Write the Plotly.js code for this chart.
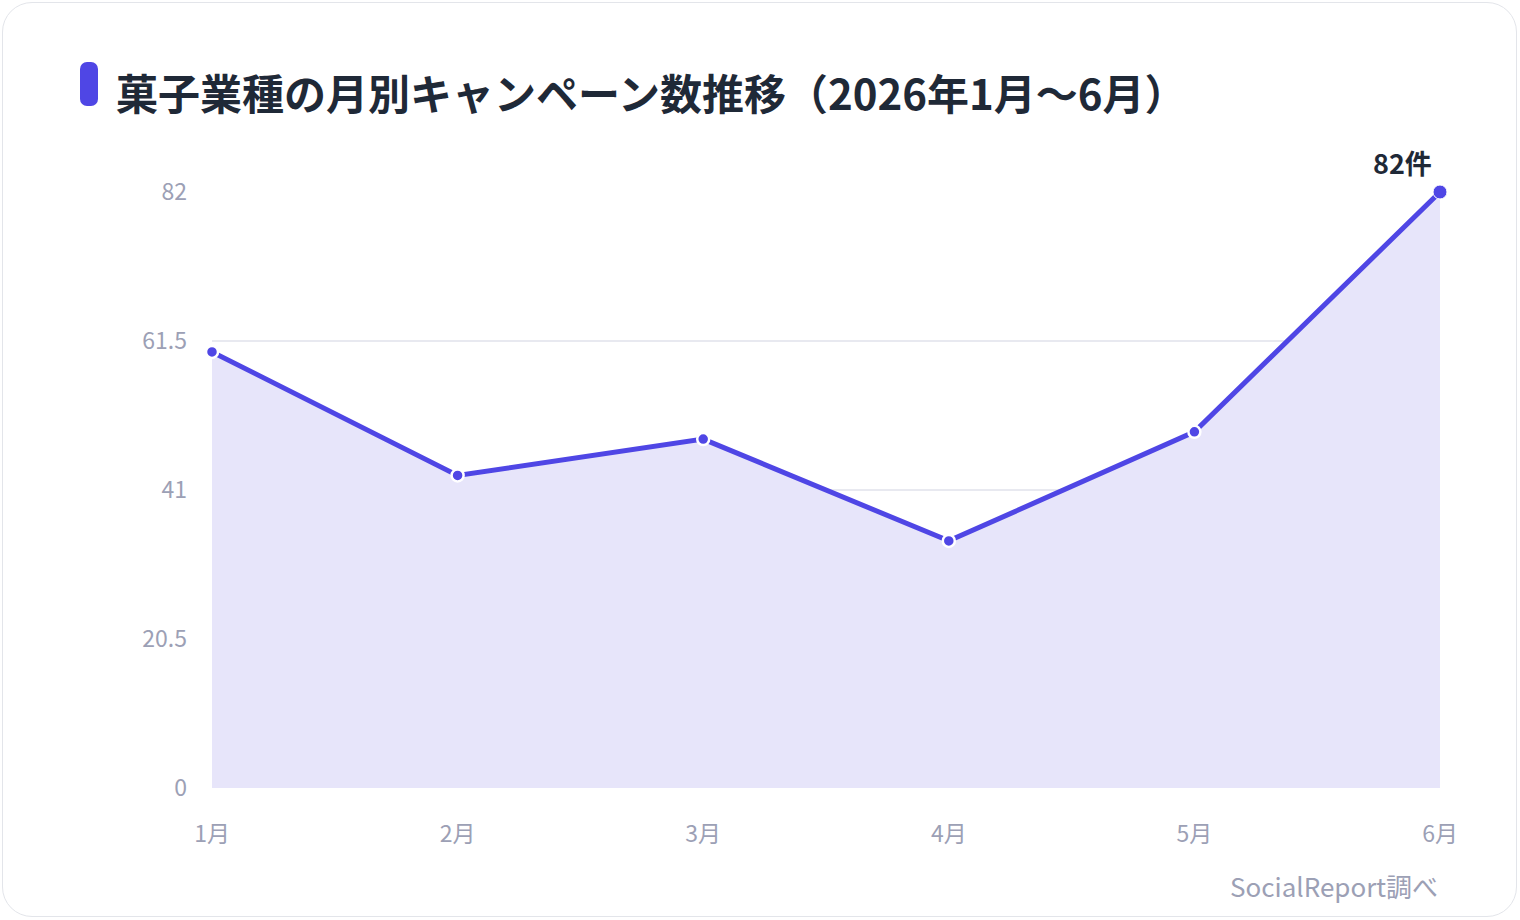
<!DOCTYPE html>
<html><head><meta charset="utf-8">
<script src="https://cdn.plot.ly/plotly-3.0.1.min.js"></script>
<style>
html,body{margin:0;padding:0;background:#fff;}
#card{position:absolute;left:2px;top:2px;width:1513px;height:913px;border:1.5px solid #e3e5ea;border-radius:30px;background:#fff;overflow:hidden;}
#bar{position:absolute;left:80px;top:62px;width:18px;height:44px;border-radius:7px;background:#4f46e5;z-index:5;}
#chart{position:absolute;left:0;top:0;width:1520px;height:920px;}
</style></head>
<body>
<div id="card"></div>
<div id="chart"></div>
<div id="bar"></div>
<script>
const months = ['1月','2月','3月','4月','5月','6月'];
const campaigns = [60, 43, 48, 34, 49, 82];
const yTicks = [0, 20.5, 41, 61.5, 82];
const yTickText = ['0','20.5','41','61.5','82'];
const titleText = '菓子業種の月別キャンペーン数推移（2026年1月〜6月）';
const lastLabel = campaigns[campaigns.length-1] + '件';
const sourceText = 'SocialReport調べ';

const FONT = '"Noto Sans CJK JP", "Noto Sans", sans-serif';

const trace = {
  x: months, y: campaigns, type: 'scatter', mode: 'lines+markers',
  line: {color: '#4f46e5', width: 5},
  fill: 'tozeroy', fillcolor: '#e7e5fa',
  marker: {color: '#4f46e5', opacity: 1, size: campaigns.map((v,i)=> i===campaigns.length-1 ? 14 : 12),
           line: {color: '#ffffff', width: months.map((v,i)=> i===months.length-1 ? 1 : 2.5)}},
  hoverinfo: 'x+y', showlegend: false, cliponaxis: false
};

const layout = {
  width: 1520, height: 920,
  paper_bgcolor: 'rgba(0,0,0,0)', plot_bgcolor: 'rgba(0,0,0,0)',
  margin: {l: 212, r: 80, t: 192, b: 132},
  font: {family: FONT},
  title: {text: titleText, x: 116/1520, xanchor: 'left', xref: 'container',
          y: 1 - 95/920, yanchor: 'middle', yref: 'container',
          font: {family: FONT, size: 42, color: '#1f2937', weight: 700}},
  xaxis: {type: 'category', range: [0, 5], showgrid: false, zeroline: false, showline: false,
          ticks: '', ticklabelstandoff: 30,
          tickfont: {family: FONT, size: 23, color: '#9ca0b5'}, fixedrange: true},
  yaxis: {range: [0, 82], tickvals: yTicks, ticktext: yTickText, showgrid: true,
          gridcolor: '#e8e9f0', gridwidth: 1.2, zeroline: false, showline: false, ticks: '',
          ticklabelstandoff: 24,
          tickfont: {family: FONT, size: 23, color: '#9ca0b5'}, fixedrange: true},
  annotations: [
    {x: months[months.length-1], y: campaigns[campaigns.length-1], xref: 'x', yref: 'y',
     text: '<b>' + lastLabel + '</b>', showarrow: false, xanchor: 'right', yanchor: 'bottom',
     xshift: -6, yshift: 8, font: {family: FONT, size: 27, color: '#1f2937'}},
    {x: 1, y: -97/596, xref: 'paper', yref: 'paper', text: sourceText, showarrow: false,
     xanchor: 'right', yanchor: 'middle', font: {family: FONT, size: 26, color: '#9ca0b5'}}
  ]
};
Plotly.newPlot('chart', [trace], layout, {displayModeBar: false, staticPlot: true});
</script>
</body></html>
